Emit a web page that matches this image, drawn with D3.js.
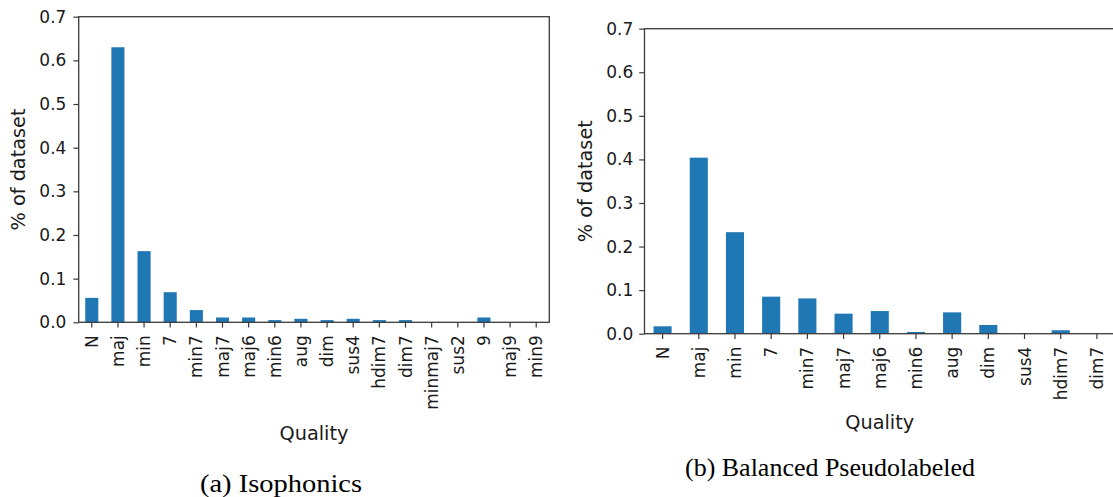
<!DOCTYPE html>
<html>
<head>
<meta charset="utf-8">
<script src="https://cdn.jsdelivr.net/npm/d3@7"></script>
<style>
  body { margin: 0; background: #fff; }
  svg { display: block; }
</style>
</head>
<body>
<div id="vizcontainer"></div>
<script>
// chord quality distributions
const isoCategories = ['N', 'maj', 'min', '7', 'min7', 'maj7', 'maj6', 'min6', 'aug', 'dim', 'sus4', 'hdim7', 'dim7', 'minmaj7', 'sus2', '9', 'maj9', 'min9'];
const isoValues = [0.056, 0.630, 0.163, 0.069, 0.028, 0.011, 0.011, 0.005, 0.008, 0.005, 0.008, 0.005, 0.005, 0, 0, 0.011, 0, 0];

const balCategories = ['N', 'maj', 'min', '7', 'min7', 'maj7', 'maj6', 'min6', 'aug', 'dim', 'sus4', 'hdim7', 'dim7'];
const balValues = [0.017, 0.404, 0.233, 0.085, 0.081, 0.046, 0.052, 0.004, 0.049, 0.020, 0, 0.008, 0];

const yTicks = [0.0, 0.1, 0.2, 0.3, 0.4, 0.5, 0.6, 0.7];

const
  W = 1113,
  H = 497,
  barColor = '#1f77b4',
  inkColor = '#1a1a1a',
  spineColor = '#3a3a3a',
  tickLen = 5.3,
  fontSans = '"DejaVu Sans", sans-serif',
  fontSerif = '"Liberation Serif", "DejaVu Serif", serif'
  ;

const svg = d3.select('#vizcontainer')
  .append('svg')
  .attr('width', W)
  .attr('height', H);

function drawPanel(opts) {
  const g = svg.append('g');

  const x = d3.scaleBand()
    .domain(opts.categories)
    .range([opts.left, opts.right])
    .paddingInner(0.5)
    .paddingOuter(0.25);

  const y = d3.scaleLinear()
    .domain([0, 0.7])
    .range([opts.bottom, opts.top]);

  // bars
  g.append('g')
    .selectAll('rect')
    .data(opts.categories.map((c, i) => ({ key: c, value: opts.values[i] })))
    .join('rect')
    .attr('x', d => x(d.key))
    .attr('y', d => y(d.value))
    .attr('width', x.bandwidth())
    .attr('height', d => y(0) - y(d.value))
    .attr('fill', barColor);

  // y axis
  const yAxis = g.append('g')
    .attr('transform', `translate(${opts.left},0)`)
    .call(d3.axisLeft(y).tickValues(yTicks).tickFormat(d3.format('.1f'))
      .tickSize(tickLen).tickPadding(opts.yPad).tickSizeOuter(0));

  // x axis
  const xAxis = g.append('g')
    .attr('transform', `translate(0,${opts.bottom})`)
    .call(d3.axisBottom(x).tickSize(tickLen).tickSizeOuter(0));

  xAxis.selectAll('.tick text')
    .attr('transform', 'rotate(-90)')
    .attr('x', -(tickLen + 7.6))
    .attr('y', 0)
    .attr('dy', '0.36em')
    .attr('text-anchor', 'end');

  [xAxis, yAxis].forEach(a => {
    a.select('.domain').remove();
    a.selectAll('text')
      .attr('font-size', '17px')
      .attr('font-family', fontSans)
      .attr('fill', inkColor);
    a.selectAll('.tick line')
      .attr('stroke', spineColor)
      .attr('stroke-width', 1.2);
  });

  // spines
  g.append('rect')
    .attr('x', opts.left)
    .attr('y', opts.top)
    .attr('width', opts.right - opts.left)
    .attr('height', opts.bottom - opts.top)
    .attr('fill', 'none')
    .attr('stroke', spineColor)
    .attr('stroke-width', 1.3);

  // axis labels
  g.append('text')
    .text('% of dataset')
    .attr('transform', `translate(${opts.yLabelX},${(opts.top + opts.bottom) / 2}) rotate(-90)`)
    .attr('text-anchor', 'middle')
    .attr('dy', '0.35em')
    .attr('font-size', '19.3px')
    .attr('font-family', fontSans)
    .attr('fill', inkColor);

  g.append('text')
    .text('Quality')
    .attr('x', (opts.left + opts.right) / 2)
    .attr('y', opts.xLabelY)
    .attr('text-anchor', 'middle')
    .attr('font-size', '19.3px')
    .attr('font-family', fontSans)
    .attr('fill', inkColor);

  // caption
  g.append('text')
    .text(opts.caption)
    .attr('x', opts.captionX)
    .attr('y', opts.captionY)
    .attr('text-anchor', 'middle')
    .attr('font-size', '25px')
    .attr('textLength', opts.captionW)
    .attr('lengthAdjust', 'spacingAndGlyphs')
    .attr('font-family', fontSerif)
    .attr('fill', '#000');
}

drawPanel({
  categories: isoCategories,
  values: isoValues,
  left: 78.7, right: 549.3, top: 16.7, bottom: 322.3,
  yPad: 7, yLabelX: 18.5, xLabelY: 440,
  caption: '(a) Isophonics', captionX: 281, captionY: 492, captionW: 162
});

drawPanel({
  categories: balCategories,
  values: balValues,
  left: 644.5, right: 1115, top: 28.7, bottom: 333.7,
  yPad: 6, yLabelX: 585, xLabelY: 429,
  caption: '(b) Balanced Pseudolabeled', captionX: 830, captionY: 476, captionW: 290
});
</script>
</body>
</html>
